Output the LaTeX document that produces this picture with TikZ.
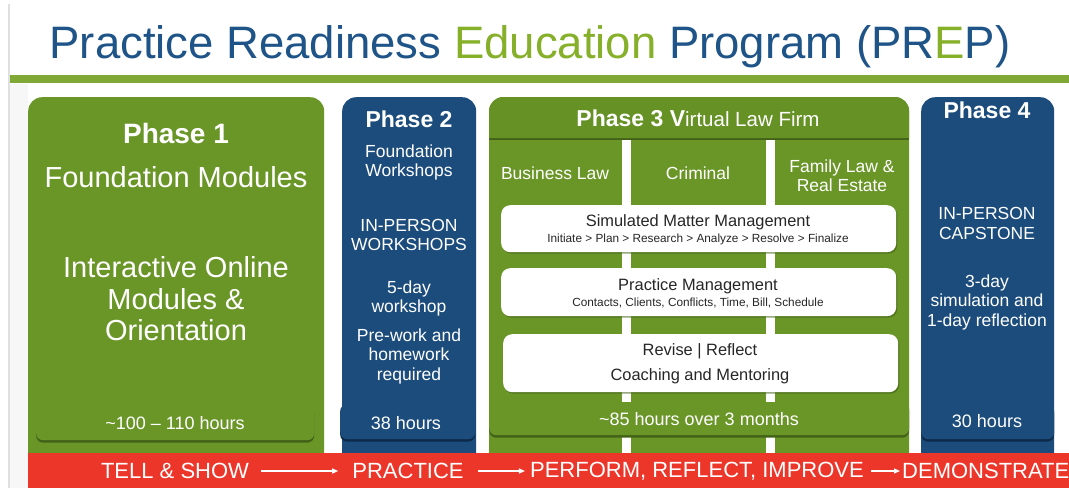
\documentclass[tikz,border=0pt]{standalone}
\usepackage{fontspec}
\setmainfont{Liberation Sans}
\usetikzlibrary{arrows.meta,positioning,shadows}
\definecolor{prepBlue}{RGB}{30,84,136}
\definecolor{prepLime}{RGB}{134,176,42}
\definecolor{ruleGreen}{RGB}{128,168,52}
\definecolor{phaseGreen}{RGB}{106,150,40}
\definecolor{headGreen}{RGB}{102,145,37}
\definecolor{shadeGreen}{RGB}{66,98,24}
\definecolor{phaseBlue}{RGB}{28,76,124}
\definecolor{shadeBlue}{RGB}{14,42,74}
\definecolor{bandRed}{RGB}{236,54,42}
\newcommand{\pfs}[2]{\fontsize{#1}{#2}\selectfont}

\begin{document}
\begin{tikzpicture}[x=1pt, y=-1pt,
  phasebox/.style={rectangle, rounded corners=14pt, anchor=north west, inner sep=0pt},
  hrsbox/.style={rectangle, rounded corners=7pt, anchor=north west, inner sep=0pt,
                 drop shadow={fill=#1, opacity=1, shadow xshift=0pt, shadow yshift=-2.5pt}},
  card/.style={rectangle, rounded corners=9pt, fill=white, anchor=north west, inner sep=0pt,
               drop shadow={fill=shadeGreen, opacity=0.6, shadow xshift=1.2pt, shadow yshift=-1.5pt}},
  wlbl/.style={text=white, inner sep=0pt, align=center},
  klbl/.style={text=black!85, inner sep=0pt, align=center},
  flow/.style={-{Triangle[length=6pt, width=5pt]}, white, line width=1.2pt}]

  \useasboundingbox (0,0) rectangle (1069,488);
  \fill[white] (0,0) rectangle (1069,488);

  % page edge and title
  \fill[gray!6] (9,84) rectangle (28,488);
  \draw[gray!25, line width=1.2pt] (9,4) -- (9,488);
  \node[inner sep=0pt, font=\pfs{45.5}{50}] (title) at (530,47)
    {\textcolor{prepBlue}{Practice Readiness} \textcolor{prepLime}{Education}
     \textcolor{prepBlue}{Program (PR}\textcolor{prepLime}{E}\textcolor{prepBlue}{P)}};
  \fill[ruleGreen] (10,75) rectangle (1069,83);

  % phase 1
  \node[phasebox, fill=phaseGreen, minimum width=296, minimum height=370] (ph1) at (28,97) {};
  \node[hrsbox=shadeGreen, fill=phaseGreen, minimum width=278, minimum height=36] (hrs1) at (36,404) {};
  \node[wlbl, font=\bfseries\pfs{28}{32}] (p1head) at (176,133) {Phase 1};
  \node[wlbl, font=\pfs{29}{32}] (p1name) at (176,177) {Foundation Modules};
  \node[wlbl, font=\pfs{29}{31.5}] (p1body) at (176,299)
    {Interactive Online\\Modules \&\\Orientation};
  \node[wlbl, font=\pfs{18}{20}] (p1hrs) at (175,423) {\textasciitilde100 -- 110 hours};

  % phase 2
  \node[phasebox, fill=phaseBlue, minimum width=134, minimum height=370] (ph2) at (342,97) {};
  \node[hrsbox=shadeBlue, fill=phaseBlue, minimum width=135, minimum height=35] (hrs2) at (340,404) {};
  \node[wlbl, font=\bfseries\pfs{23}{26}] (p2head) at (409,119) {Phase 2};
  \node[wlbl, font=\pfs{17.5}{19}] (p2name) at (409,162) {Foundation\\Workshops};
  \node[wlbl, font=\pfs{17.5}{19}] (p2mode) at (409,235) {IN-PERSON\\WORKSHOPS};
  \node[wlbl, font=\pfs{17.5}{19}] (p2days) at (409,298) {5-day\\workshop};
  \node[wlbl, font=\pfs{17.5}{19.5}] (p2prep) at (409,356) {Pre-work and\\homework\\required};
  \node[wlbl, font=\pfs{18}{20}] (p2hrs) at (406,423) {38 hours};

  % phase 3: header band, three practice areas, cards
  \node[phasebox, fill=phaseGreen, minimum width=420, minimum height=370] (ph3) at (489,97) {};
  \fill[shadeGreen] (489,137) rectangle (909,140);
  \fill[headGreen] (489,138) [rounded corners=14pt] -- (489,97) -- (909,97) [sharp corners] -- (909,138) -- cycle;
  \foreach \gx in {622,766}
    \fill[white] (\gx,140) rectangle ++(9,313);
  \node[wlbl, font=\pfs{20.5}{24}] (p3head) at (698,118)
    {{\bfseries\pfs{23}{24}Phase 3 V}irtual Law Firm};
  \node[wlbl, font=\pfs{17.5}{19}] (biz) at (555,173) {Business Law};
  \node[wlbl, font=\pfs{17.5}{19}] (crim) at (698,173) {Criminal};
  \node[wlbl, font=\pfs{17.5}{19}] (fam) at (842,176) {Family Law \&\\Real Estate};

  \node[card, minimum width=395, minimum height=47] (smm) at (501,205) {};
  \node[klbl, font=\pfs{16.4}{18}] (smmtop) at (698,222) {Simulated Matter Management};
  \node[klbl, font=\pfs{11.8}{14}] (smmsub) at (698,239)
    {Initiate > Plan > Research > Analyze > Resolve > Finalize};

  \node[card, minimum width=395, minimum height=48] (pm) at (501,268) {};
  \node[klbl, font=\pfs{16.4}{18}] (pmtop) at (698,286) {Practice Management};
  \node[klbl, font=\pfs{11.8}{14}] (pmsub) at (698,303)
    {Contacts, Clients, Conflicts, Time, Bill, Schedule};

  \node[card, minimum width=395, minimum height=58] (rev) at (503,334) {};
  \node[klbl, font=\pfs{16.4}{18}] (revtop) at (700,351) {Revise | Reflect};
  \node[klbl, font=\pfs{16.4}{18}] (revsub) at (700,376) {Coaching and Mentoring};

  \node[hrsbox=shadeGreen, fill=phaseGreen, minimum width=420, minimum height=33] (hrs3) at (489,402) {};
  \node[wlbl, font=\pfs{18}{20}] (p3hrs) at (699,419) {\textasciitilde85 hours over 3 months};

  % phase 4
  \node[phasebox, fill=phaseBlue, minimum width=133, minimum height=370] (ph4) at (921,97) {};
  \node[hrsbox=shadeBlue, fill=phaseBlue, minimum width=133, minimum height=35] (hrs4) at (921,404) {};
  \node[wlbl, font=\bfseries\pfs{23}{26}] (p4head) at (987,110) {Phase 4};
  \node[wlbl, font=\pfs{17.5}{20}] (p4mode) at (987,223) {IN-PERSON\\CAPSTONE};
  \node[wlbl, font=\pfs{17.5}{19.5}] (p4days) at (987,302) {3-day\\simulation and\\1-day reflection};
  \node[wlbl, font=\pfs{18}{20}] (p4hrs) at (987,421) {30 hours};

  % learning progression band
  \node[anchor=north west, fill=bandRed, inner sep=0pt, minimum width=1041, minimum height=35] (band) at (28,453) {};
  \node[wlbl, font=\pfs{22}{24}] (tell) at (175,471) {TELL \& SHOW};
  \node[wlbl, font=\pfs{22}{24}] (practice) at (408,471) {PRACTICE};
  \node[wlbl, font=\pfs{22}{24}] (perform) at (697,471) {PERFORM, REFLECT, IMPROVE};
  \node[wlbl, font=\pfs{22}{24}, anchor=west] (demo) at (902,471) {DEMONSTRATE};

  \draw[flow, shorten <=12pt, shorten >=14pt] (tell.east) -- (practice.west);
  \draw[flow, shorten <=14pt, shorten >=5pt] (practice.east) -- (perform.west);
  \draw[flow, shorten <=7pt, shorten >=2pt] (perform.east) -- (demo.west);
\end{tikzpicture}
\end{document}
